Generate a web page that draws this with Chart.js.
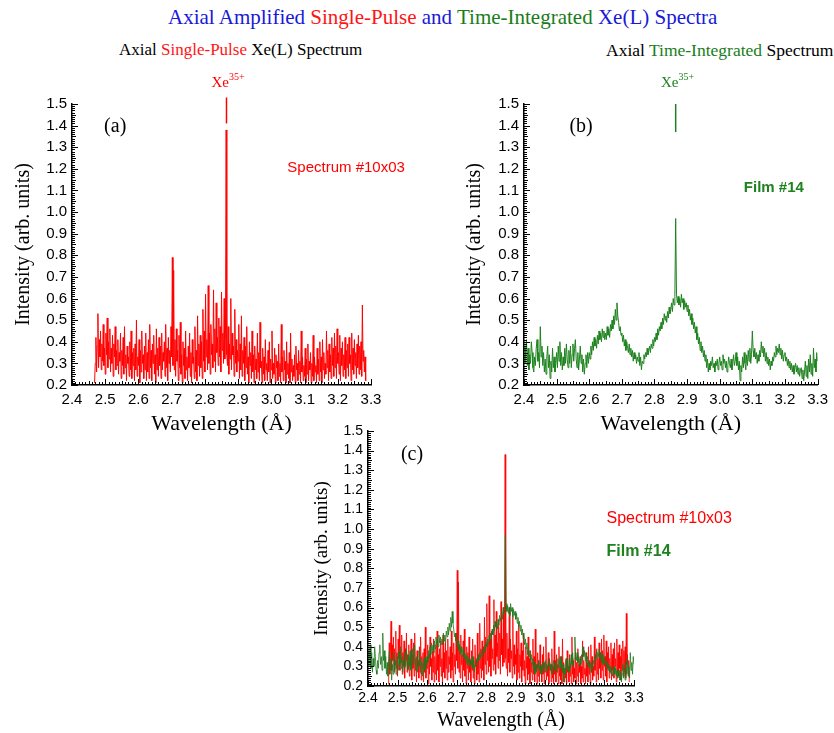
<!DOCTYPE html>
<html>
<head>
<meta charset="utf-8">
<script src="https://cdn.jsdelivr.net/npm/chart.js@4.4.1/dist/chart.umd.min.js"></script>
<style>
  body { margin: 0; width: 834px; height: 733px; position: relative; background: #fff; overflow: hidden; }
  canvas { position: absolute; left: 0; top: 0; }
  .hd { position: absolute; font-family: 'Liberation Serif', 'Times New Roman', serif; white-space: nowrap; }
  .b { color: rgb(25, 25, 215); }
  .r { color: rgb(255, 20, 20); }
  .g { color: rgb(25, 125, 25); }
</style>
</head>
<body>
<div class="hd" style="left:168px; top:5px; font-size:21px; line-height:24px;">
  <span class="b">Axial Amplified</span> <span class="r">Single-Pulse</span> <span class="b">and</span> <span class="g">Time-Integrated</span> <span class="b">Xe(L) Spectra</span>
</div>
<div class="hd" style="left:119px; top:40px; font-size:17px; line-height:20px;">
  Axial <span class="r">Single-Pulse</span> Xe(L) Spectrum
</div>
<div class="hd" style="left:606px; top:40px; font-size:17.5px; line-height:20px;">
  Axial <span class="g">Time-Integrated</span> Spectrum
</div>
<canvas id="ca" width="834" height="733"></canvas>
<canvas id="cb" width="834" height="733"></canvas>
<canvas id="cc" width="834" height="733"></canvas>
<script>
// single-pulse spectrum #10x03, sampled every 0.002 A from 2.468 A
const pulseStart = 2.468;
const pulseStep = 0.002;
const pulse = [
  0.21, 0.30, 0.42, 0.26, 0.38, 0.53, 0.28, 0.41, 0.33, 0.45, 0.27, 0.39, 0.31, 0.48, 0.29, 0.37, 0.25, 0.44, 0.34, 0.51,
  0.28, 0.40, 0.32, 0.46, 0.26, 0.37, 0.30, 0.43, 0.24, 0.39, 0.33, 0.47, 0.27, 0.36, 0.29, 0.41, 0.25, 0.35, 0.31, 0.44,
  0.23, 0.36, 0.29, 0.42, 0.25, 0.47, 0.28, 0.34, 0.22, 0.38, 0.30, 0.33, 0.24, 0.40, 0.27, 0.45, 0.23, 0.35, 0.29, 0.37,
  0.22, 0.39, 0.27, 0.50, 0.24, 0.33, 0.29, 0.41, 0.21, 0.36, 0.26, 0.45, 0.30, 0.34, 0.23, 0.38, 0.27, 0.44, 0.22, 0.35,
  0.26, 0.41, 0.23, 0.48, 0.28, 0.36, 0.22, 0.39, 0.30, 0.43, 0.25, 0.34, 0.21, 0.46, 0.27, 0.37, 0.24, 0.42, 0.29, 0.38,
  0.23, 0.44, 0.27, 0.35, 0.31, 0.40, 0.24, 0.48, 0.28, 0.37, 0.22, 0.42, 0.30, 0.36, 0.26, 0.47, 0.33, 0.79, 0.29, 0.73,
  0.27, 0.41, 0.24, 0.46, 0.31, 0.36, 0.22, 0.43, 0.28, 0.49, 0.25, 0.34, 0.21, 0.40, 0.29, 0.37, 0.23, 0.45, 0.27, 0.33,
  0.22, 0.38, 0.28, 0.44, 0.24, 0.35, 0.21, 0.41, 0.30, 0.33, 0.23, 0.47, 0.26, 0.36, 0.22, 0.52, 0.29, 0.39, 0.24, 0.43,
  0.28, 0.40, 0.23, 0.55, 0.31, 0.45, 0.26, 0.62, 0.33, 0.41, 0.27, 0.66, 0.30, 0.44, 0.25, 0.48, 0.34, 0.39, 0.28, 0.64,
  0.31, 0.46, 0.26, 0.58, 0.35, 0.42, 0.29, 0.51, 0.33, 0.47, 0.26, 0.63, 0.36, 0.44, 0.30, 0.60, 0.32, 0.45, 1.38, 0.34,
  0.29, 0.47, 0.25, 0.39, 0.32, 0.60, 0.27, 0.44, 0.34, 0.38, 0.24, 0.55, 0.30, 0.41, 0.26, 0.36, 0.31, 0.48, 0.23, 0.39,
  0.27, 0.52, 0.24, 0.36, 0.30, 0.42, 0.22, 0.38, 0.28, 0.47, 0.25, 0.33, 0.21, 0.40, 0.29, 0.35, 0.23, 0.45, 0.26, 0.34,
  0.21, 0.38, 0.27, 0.32, 0.23, 0.44, 0.26, 0.35, 0.22, 0.49, 0.28, 0.31, 0.21, 0.37, 0.25, 0.33, 0.22, 0.41, 0.27, 0.30,
  0.22, 0.36, 0.26, 0.40, 0.21, 0.32, 0.27, 0.45, 0.23, 0.30, 0.25, 0.37, 0.21, 0.34, 0.28, 0.31, 0.22, 0.39, 0.24, 0.30,
  0.21, 0.48, 0.26, 0.33, 0.22, 0.36, 0.27, 0.31, 0.21, 0.40, 0.25, 0.30, 0.23, 0.35, 0.21, 0.44, 0.26, 0.32, 0.22, 0.29,
  0.24, 0.34, 0.21, 0.38, 0.27, 0.30, 0.22, 0.36, 0.25, 0.31, 0.21, 0.45, 0.26, 0.33, 0.22, 0.29, 0.24, 0.37, 0.21, 0.32,
  0.25, 0.39, 0.22, 0.31, 0.27, 0.35, 0.21, 0.30, 0.24, 0.43, 0.22, 0.33, 0.26, 0.29, 0.21, 0.37, 0.25, 0.32, 0.22, 0.40,
  0.26, 0.33, 0.21, 0.41, 0.27, 0.35, 0.23, 0.30, 0.25, 0.45, 0.28, 0.36, 0.22, 0.39, 0.26, 0.34, 0.23, 0.42, 0.29, 0.37,
  0.24, 0.44, 0.28, 0.38, 0.23, 0.46, 0.30, 0.35, 0.25, 0.43, 0.22, 0.37, 0.29, 0.40, 0.24, 0.34, 0.27, 0.42, 0.23, 0.36,
  0.28, 0.39, 0.24, 0.42, 0.30, 0.34, 0.22, 0.44, 0.27, 0.37, 0.25, 0.41, 0.29, 0.35, 0.23, 0.39, 0.28, 0.43, 0.25, 0.38,
  0.27, 0.40, 0.24, 0.57, 0.31, 0.36, 0.26, 0.33, 0.22
];

// time-integrated spectrum, film #14, sampled every 0.0025 A from 2.400 A
const filmStart = 2.400;
const filmStep = 0.0025;
const film = [
  0.38, 0.30, 0.36, 0.41, 0.29, 0.37, 0.27, 0.34, 0.30, 0.40, 0.35, 0.28, 0.26, 0.33, 0.29, 0.37, 0.41, 0.31, 0.35, 0.28,
  0.47, 0.33, 0.38, 0.29, 0.35, 0.26, 0.32, 0.25, 0.33, 0.38, 0.28, 0.34, 0.23, 0.31, 0.26, 0.37, 0.28, 0.33, 0.26, 0.30,
  0.35, 0.28, 0.38, 0.31, 0.40, 0.29, 0.35, 0.27, 0.33, 0.29, 0.37, 0.30, 0.39, 0.32, 0.28, 0.36, 0.30, 0.38, 0.28, 0.34,
  0.39, 0.31, 0.37, 0.41, 0.32, 0.28, 0.35, 0.27, 0.32, 0.38, 0.30, 0.34, 0.26, 0.32, 0.25, 0.30, 0.34, 0.28, 0.35, 0.30,
  0.35, 0.32, 0.38, 0.34, 0.40, 0.36, 0.42, 0.38, 0.41, 0.37, 0.43, 0.39, 0.45, 0.41, 0.44, 0.40, 0.46, 0.42, 0.45, 0.41,
  0.44, 0.41, 0.47, 0.43, 0.46, 0.42, 0.48, 0.45, 0.50, 0.46, 0.52, 0.48, 0.55, 0.50, 0.58, 0.52, 0.49, 0.45, 0.47, 0.43,
  0.44, 0.40, 0.43, 0.38, 0.41, 0.36, 0.40, 0.37, 0.35, 0.39, 0.34, 0.37, 0.33, 0.36, 0.31, 0.35, 0.32, 0.34, 0.30, 0.33,
  0.31, 0.35, 0.29, 0.33, 0.27, 0.31, 0.30, 0.34, 0.32, 0.35, 0.33, 0.37, 0.34, 0.36, 0.38, 0.35, 0.39, 0.37, 0.41, 0.38,
  0.42, 0.40, 0.44, 0.41, 0.46, 0.43, 0.47, 0.45, 0.49, 0.46, 0.51, 0.48, 0.53, 0.50, 0.52, 0.49, 0.54, 0.51, 0.56, 0.53,
  0.55, 0.58, 0.54, 0.60, 0.57, 0.61, 0.97, 0.62, 0.58, 0.61, 0.57, 0.60, 0.56, 0.62, 0.58, 0.60, 0.55, 0.59, 0.56, 0.58,
  0.54, 0.57, 0.52, 0.55, 0.50, 0.53, 0.48, 0.51, 0.46, 0.49, 0.44, 0.47, 0.41, 0.44, 0.39, 0.42, 0.36, 0.40, 0.35, 0.38,
  0.33, 0.36, 0.31, 0.34, 0.28, 0.32, 0.26, 0.30, 0.27, 0.31, 0.29, 0.33, 0.28, 0.30, 0.26, 0.31, 0.29, 0.32, 0.27, 0.30,
  0.33, 0.29, 0.31, 0.27, 0.34, 0.30, 0.32, 0.28, 0.31, 0.26, 0.29, 0.33, 0.30, 0.28, 0.32, 0.27, 0.30, 0.34, 0.29, 0.31,
  0.35, 0.29, 0.33, 0.27, 0.31, 0.22, 0.29, 0.26, 0.33, 0.28, 0.35, 0.30, 0.27, 0.34, 0.29, 0.36, 0.31, 0.37, 0.30, 0.34,
  0.45, 0.36, 0.33, 0.37, 0.32, 0.35, 0.30, 0.34, 0.31, 0.36, 0.33, 0.40, 0.35, 0.38, 0.33, 0.37, 0.31, 0.35, 0.30, 0.33,
  0.29, 0.32, 0.27, 0.31, 0.29, 0.33, 0.31, 0.35, 0.33, 0.38, 0.34, 0.37, 0.35, 0.39, 0.34, 0.37, 0.32, 0.36, 0.31, 0.34,
  0.35, 0.31, 0.33, 0.29, 0.32, 0.28, 0.31, 0.27, 0.30, 0.26, 0.29, 0.25, 0.28, 0.30, 0.26, 0.29, 0.25, 0.28, 0.24, 0.27,
  0.28, 0.23, 0.27, 0.22, 0.26, 0.31, 0.24, 0.29, 0.23, 0.32, 0.26, 0.34, 0.25, 0.30, 0.24, 0.37, 0.28, 0.32, 0.26, 0.35,
  0.31
];

// Xe35+ line position and the short marker bars above it
const xeLambda = 2.865;
const xeBarA = [1.41, 1.53];
const xeBarB = [1.37, 1.50];

const xRange = [2.4, 3.3];
const yRange = [0.2, 1.5];

const RED = 'rgb(255,0,0)';
const GREEN = 'rgb(30,130,30)';

const pulsePts = pulse.map((v, i) => ({ x: pulseStart + i * pulseStep, y: v }));
const filmPts = film.map((v, i) => ({ x: filmStart + i * filmStep, y: v }));
const bar = ys => ys.map(v => ({ x: xeLambda, y: v }));

const lineSet = (data, color, width) => ({
  data, borderColor: color, borderWidth: width, pointRadius: 0, tension: 0, fill: false
});

// inward major/minor ticks, as on the original plots
const inTicks = {
  id: 'inTicks',
  afterDatasetsDraw(chart) {
    const { ctx, chartArea: a, scales: { x, y } } = chart;
    ctx.save();
    ctx.strokeStyle = '#000';
    ctx.lineWidth = 1;
    ctx.beginPath();
    const nx = Math.round((x.max - x.min) * 100);
    for (let i = 0; i <= nx; i++) {
      const px = Math.round(x.getPixelForValue(x.min + i / 100)) + 0.5;
      const len = i % 10 === 0 ? 6 : (i % 5 === 0 ? 4 : 3);
      ctx.moveTo(px, a.bottom); ctx.lineTo(px, a.bottom - len);
    }
    const ny = Math.round((y.max - y.min) * 100);
    for (let i = 0; i <= ny; i++) {
      const py = Math.round(y.getPixelForValue(y.min + i / 100)) + 0.5;
      const len = i % 10 === 0 ? 6 : (i % 5 === 0 ? 4 : 3);
      ctx.moveTo(a.left, py); ctx.lineTo(a.left + len, py);
    }
    ctx.stroke();
    ctx.restore();
  }
};

// panel labels, sample names and the Xe35+ tag
const notes = {
  id: 'notes',
  afterDraw(chart, args, opts) {
    const { ctx, scales: { x, y } } = chart;
    ctx.save();
    ctx.textBaseline = 'middle';
    (opts.items || []).forEach(n => {
      ctx.font = n.font;
      ctx.fillStyle = n.color;
      ctx.textAlign = n.align || 'left';
      const px = x.getPixelForValue(n.x), py = y.getPixelForValue(n.y);
      if (n.sup) {
        ctx.textAlign = 'left';
        ctx.fillText(n.t, px, py);
        const w = ctx.measureText(n.t).width;
        ctx.font = n.supFont;
        ctx.fillText(n.sup, px + w, py - 5);
      } else {
        ctx.fillText(n.t, px, py);
      }
    });
    ctx.restore();
  }
};

function makeChart(id, datasets, g, items) {
  const sans = { family: "'Liberation Sans', Arial, sans-serif", size: g.tickSize };
  const serifX = { family: "'Liberation Serif', 'Times New Roman', serif", size: g.xTitle };
  const serifY = { family: "'Liberation Serif', 'Times New Roman', serif", size: g.yTitle };
  return new Chart(document.getElementById(id).getContext('2d'), {
    type: 'line',
    data: { datasets },
    options: {
      responsive: false,
      animation: false,
      events: [],
      layout: { padding: g.pad },
      plugins: { legend: { display: false }, tooltip: { enabled: false }, notes: { items } },
      scales: {
        x: {
          type: 'linear', min: xRange[0], max: xRange[1],
          ticks: { stepSize: 0.1, callback: v => v.toFixed(1), font: sans, color: '#000', padding: g.xPad, maxRotation: 0, autoSkip: false },
          grid: { display: false, drawTicks: false },
          border: { display: true, color: '#000', width: 1.5 },
          title: { display: true, text: 'Wavelength (Å)', font: serifX, color: '#000', padding: 0 },
          afterFit: s => { s.height = g.xH; }
        },
        y: {
          type: 'linear', min: yRange[0], max: yRange[1],
          ticks: { stepSize: 0.1, callback: v => v.toFixed(1), font: sans, color: '#000', padding: g.yPad, autoSkip: false },
          grid: { display: false, drawTicks: false },
          border: { display: true, color: '#000', width: 1.5 },
          title: { display: true, text: 'Intensity (arb. units)', font: serifY, color: '#000', padding: 0 },
          afterFit: s => { s.width = g.yW; }
        }
      }
    },
    plugins: [inTicks, notes]
  });
}

const serifTxt = "'Liberation Serif', 'Times New Roman', serif";
const sansTxt = "'Liberation Sans', Arial, sans-serif";

// (a) single pulse
makeChart('ca', [
  lineSet(pulsePts, RED, 1),
  Object.assign(lineSet(bar(xeBarA), RED, 1.5), { clip: false })
], { pad: { left: 12, right: 463, top: 104, bottom: 296 }, yW: 60, xH: 52, xPad: 6, yPad: 5, tickSize: 15, xTitle: 22, yTitle: 20 }, [
  { t: '(a)', x: 2.53, y: 1.394, font: '20px ' + serifTxt, color: '#000', align: 'center' },
  { t: 'Spectrum #10x03', x: 3.048, y: 1.205, font: '15px ' + sansTxt, color: RED },
  { t: 'Xe', sup: '35+', x: 2.82, y: 1.598, font: '15px ' + serifTxt, supFont: '10px ' + serifTxt, color: RED }
]);

// (b) time integrated
makeChart('cb', [
  lineSet(filmPts, GREEN, 1),
  Object.assign(lineSet(bar(xeBarB), GREEN, 1.5), { clip: false })
], { pad: { left: 463, right: 12, top: 104, bottom: 296 }, yW: 61, xH: 52, xPad: 6, yPad: 5, tickSize: 15, xTitle: 22, yTitle: 20 }, [
  { t: '(b)', x: 2.575, y: 1.394, font: '20px ' + serifTxt, color: '#000', align: 'center' },
  { t: 'Film #14', x: 3.074, y: 1.112, font: 'bold 15px ' + sansTxt, color: GREEN },
  { t: 'Xe', sup: '35+', x: 2.82, y: 1.598, font: '15px ' + serifTxt, supFont: '10px ' + serifTxt, color: GREEN }
]);

// (c) overlay
makeChart('cc', [
  lineSet(filmPts, 'rgba(30,120,30,0.8)', 1),
  lineSet(pulsePts, 'rgba(255,0,0,0.85)', 1)
], { pad: { left: 311, right: 200, top: 431, bottom: 0 }, yW: 57, xH: 47, xPad: 4, yPad: 5, tickSize: 14, xTitle: 20, yTitle: 19 }, [
  { t: '(c)', x: 2.549, y: 1.379, font: '20px ' + serifTxt, color: '#000', align: 'center' },
  { t: 'Spectrum #10x03', x: 3.207, y: 1.052, font: '16px ' + sansTxt, color: RED },
  { t: 'Film #14', x: 3.207, y: 0.884, font: 'bold 16px ' + sansTxt, color: GREEN }
]);
</script>
</body>
</html>
